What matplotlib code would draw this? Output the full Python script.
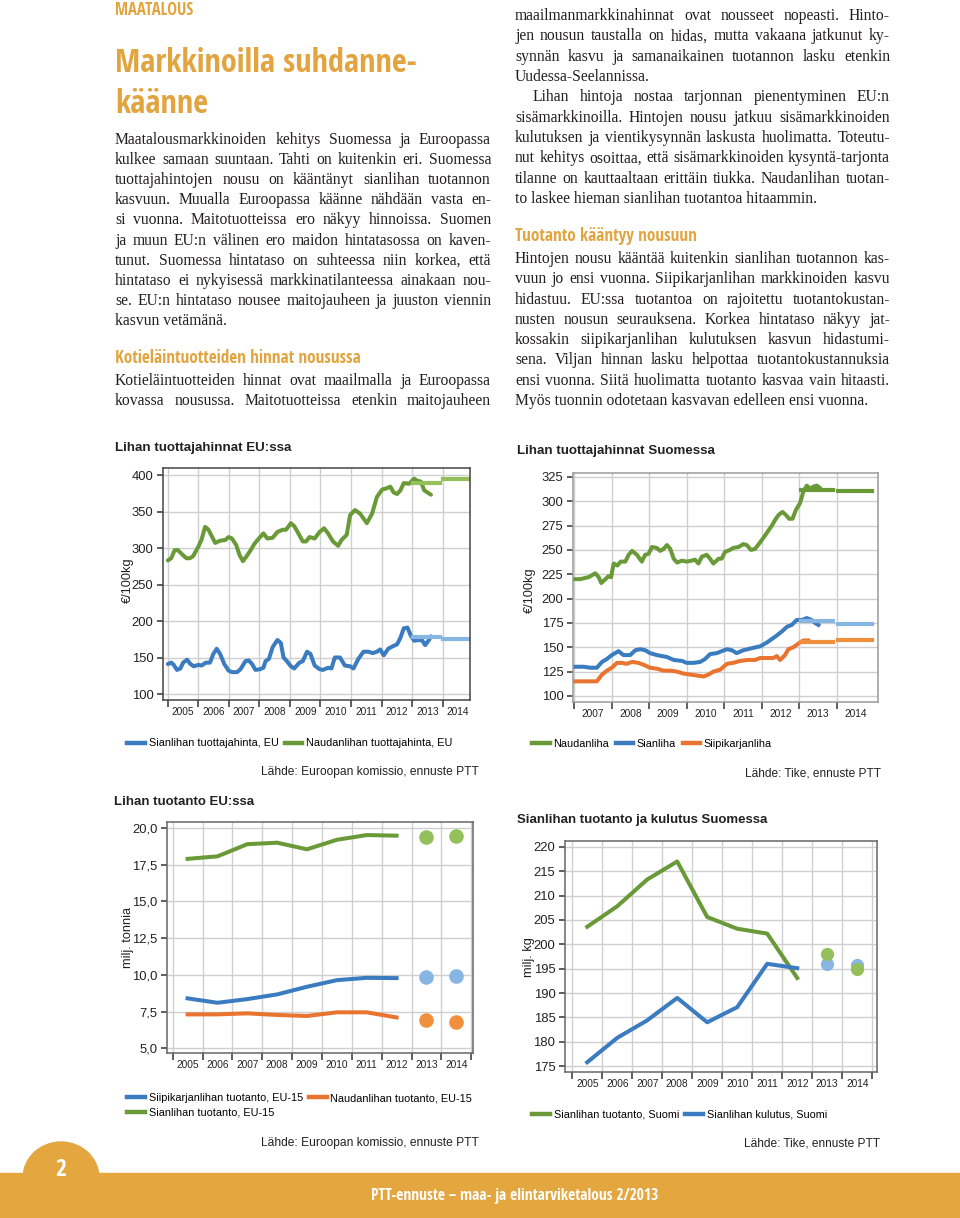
import matplotlib
matplotlib.use("Agg")
import matplotlib.pyplot as plt
from matplotlib import font_manager as fm
from matplotlib.font_manager import FontProperties
from matplotlib.lines import Line2D
from matplotlib.patches import Rectangle, Ellipse
from matplotlib.ticker import FixedLocator, FuncFormatter

# ---------------- DATA ----------------
# Chart 1: Lihan tuottajahinnat EU:ssa (EUR/100kg)
EU_BEEF_T = [2005.0, 2005.11, 2005.22, 2005.33, 2005.5, 2005.61, 2005.72, 2005.83,
             2006.0, 2006.1, 2006.22, 2006.33, 2006.44, 2006.55, 2006.71, 2006.88, 2006.99,
             2007.1, 2007.24, 2007.35, 2007.46, 2007.6, 2007.71, 2007.84, 2007.98,
             2008.13, 2008.26, 2008.43, 2008.59, 2008.76, 2008.87,
             2009.03, 2009.14, 2009.25, 2009.42, 2009.53, 2009.64, 2009.81, 2009.97,
             2010.12, 2010.25, 2010.41, 2010.58, 2010.69, 2010.86, 2010.97,
             2011.13, 2011.3, 2011.52, 2011.69, 2011.85,
             2012.02, 2012.18, 2012.29, 2012.4, 2012.51, 2012.62, 2012.73, 2012.9,
             2013.07, 2013.18, 2013.29, 2013.4, 2013.51, 2013.62]
EU_BEEF_V = [283, 286, 297, 297, 290, 286, 286, 289,
             302, 311, 329, 325, 316, 307, 310, 311, 315,
             313, 304, 290, 282, 290, 297, 306, 313,
             320, 313, 314, 322, 325, 325,
             334, 330, 322, 309, 309, 315, 313, 322,
             327, 320, 309, 303, 311, 318, 345,
             352, 347, 334, 347, 370,
             380, 382, 384, 376, 374, 379, 389, 388,
             395, 392, 391, 379, 376, 373]
EU_PORK_T = [2005.0, 2005.11, 2005.19, 2005.3, 2005.41, 2005.5, 2005.63, 2005.74, 2005.85,
             2006.0, 2006.1, 2006.25, 2006.38, 2006.49, 2006.6, 2006.71, 2006.85, 2006.99,
             2007.1, 2007.27, 2007.38, 2007.54, 2007.65, 2007.76, 2007.87,
             2008.02, 2008.13, 2008.2, 2008.31, 2008.43, 2008.59, 2008.7, 2008.79, 2008.9,
             2009.03, 2009.14, 2009.31, 2009.42, 2009.56, 2009.67, 2009.81, 2009.97,
             2010.08, 2010.25, 2010.36, 2010.47, 2010.64, 2010.8, 2010.97,
             2011.08, 2011.24, 2011.41, 2011.57, 2011.71, 2011.85, 2011.96,
             2012.07, 2012.22, 2012.35, 2012.51, 2012.62, 2012.73, 2012.85, 2012.96,
             2013.07, 2013.23, 2013.34, 2013.43, 2013.54, 2013.62]
EU_PORK_V = [141, 143, 140, 133, 135, 143, 147, 141, 138,
             140, 139, 143, 143, 155, 162, 155, 141, 132,
             130, 130, 134, 145, 146, 141, 133,
             134, 136, 145, 148, 164, 174, 170, 150, 145,
             138, 135, 143, 145, 158, 155, 139, 134,
             133, 136, 135, 150, 150, 139, 138,
             135, 148, 158, 158, 156, 158, 161,
             153, 162, 165, 168, 177, 190, 191, 180,
             173, 174, 173, 167, 173, 179]
EU_FC_YEARS = [2013, 2014]
EU_BEEF_FC = [388.5, 394.5]
EU_PORK_FC = [177.5, 176.0]

# Chart 2: Lihan tuottajahinnat Suomessa (EUR/100kg)
FI_BEEF_T = [2007.0, 2007.16, 2007.38, 2007.56, 2007.65, 2007.72, 2007.83, 2007.91, 2007.98,
             2008.05, 2008.15, 2008.24, 2008.36, 2008.45, 2008.54, 2008.67, 2008.8, 2008.89, 2008.98,
             2009.07, 2009.2, 2009.29, 2009.38, 2009.47, 2009.56, 2009.65, 2009.74, 2009.87,
             2010.0, 2010.13, 2010.22, 2010.31, 2010.4, 2010.53, 2010.62, 2010.71, 2010.85, 2010.93,
             2011.02, 2011.15, 2011.24, 2011.38, 2011.51, 2011.6, 2011.71, 2011.82, 2011.96,
             2012.09, 2012.18, 2012.27, 2012.36, 2012.45, 2012.55, 2012.64, 2012.73, 2012.82, 2012.91,
             2013.02, 2013.11, 2013.2, 2013.29, 2013.38, 2013.47, 2013.54]
FI_BEEF_V = [220, 220, 222, 226, 222, 216, 220, 223, 222,
             236, 234, 238, 238, 245, 249, 245, 238, 245, 246,
             253, 252, 249, 251, 255, 251, 241, 237, 239,
             238, 239, 240, 236, 243, 245, 241, 236, 241, 241,
             248, 250, 252, 253, 256, 255, 250, 251, 258,
             265, 270, 275, 281, 286, 289, 286, 282, 282, 291,
             298, 310, 316, 313, 315, 316, 314]
FI_PORK_T = [2007.0, 2007.25, 2007.43, 2007.6, 2007.74, 2007.87,
             2008.0, 2008.18, 2008.31, 2008.49, 2008.63, 2008.76, 2008.89,
             2009.02, 2009.2, 2009.47, 2009.65, 2009.87,
             2010.0, 2010.18, 2010.36, 2010.49, 2010.62, 2010.8, 2010.93,
             2011.07, 2011.2, 2011.33, 2011.51, 2011.73, 2011.96,
             2012.14, 2012.36, 2012.53, 2012.67, 2012.8, 2012.93,
             2013.07, 2013.2, 2013.33, 2013.42, 2013.51]
FI_PORK_V = [130, 130, 129, 129, 135, 138,
             142, 146, 142, 142, 147, 148, 147,
             144, 142, 140, 137, 136,
             134, 134, 135, 138, 143, 144, 146,
             148, 147, 144, 147, 149, 151,
             155, 161, 166, 171, 173, 178,
             178, 180, 178, 175, 173]
FI_POULTRY_T = [2007.0, 2007.34, 2007.6, 2007.74, 2007.87,
                2008.0, 2008.14, 2008.27, 2008.4, 2008.54, 2008.71, 2008.85,
                2009.02, 2009.2, 2009.38, 2009.56, 2009.74, 2009.91,
                2010.09, 2010.27, 2010.45, 2010.58, 2010.71, 2010.89,
                2011.07, 2011.24, 2011.42, 2011.64, 2011.82, 2011.96,
                2012.14, 2012.31, 2012.4, 2012.49, 2012.62, 2012.71, 2012.84, 2012.98,
                2013.11, 2013.24]
FI_POULTRY_V = [115, 115, 115, 122, 126,
                129, 134, 134, 133, 135, 134, 132,
                129, 128, 126, 126, 125, 123,
                122, 121, 120, 122, 125, 127,
                133, 134, 136, 137, 137, 139,
                139, 139, 141, 137, 142, 148, 150, 154,
                157, 157]
FI_FC_YEARS = [2013, 2014]
FI_BEEF_FC = [312, 311]
FI_PORK_FC = [176.5, 174]
FI_POULTRY_FC = [155, 157]

# Chart 3: Lihan tuotanto EU:ssa (milj. tonnia)
PROD_YEARS = [2005, 2006, 2007, 2008, 2009, 2010, 2011, 2012]
FC_YEARS = [2013, 2014]
EU_POULTRY_PROD = [8.4, 8.1, 8.35, 8.67, 9.19, 9.64, 9.8, 9.78]
EU_BEEF_PROD = [7.31, 7.31, 7.38, 7.27, 7.2, 7.45, 7.45, 7.1]
EU_PORK_PROD = [17.9, 18.07, 18.9, 19.0, 18.55, 19.2, 19.52, 19.48]
EU_POULTRY_PROD_FC = [9.87, 9.92]
EU_BEEF_PROD_FC = [6.93, 6.81]
EU_PORK_PROD_FC = [19.37, 19.46]

# Chart 4: Sianlihan tuotanto ja kulutus Suomessa (milj. kg)
FI_PORK_PROD = [203.6, 207.8, 213.3, 217.0, 205.6, 203.2, 202.2, 193.1]
FI_PORK_CONS = [175.8, 180.8, 184.4, 189.0, 184.0, 187.1, 196.0, 195.1]
FI_PORK_PROD_FC = [198.1, 195.0]
FI_PORK_CONS_FC = [196.0, 195.7]

TICK_YEARS_1 = list(range(2005, 2015))
TICK_YEARS_2 = list(range(2007, 2015))

LEFT_TEXT = [
    "Maatalousmarkkinoiden kehitys Suomessa ja Euroopassa",
    "kulkee samaan suuntaan. Tahti on kuitenkin eri. Suomessa",
    "tuottajahintojen nousu on kääntänyt sianlihan tuotannon",
    "kasvuun. Muualla Euroopassa käänne nähdään vasta en-",
    "si vuonna. Maitotuotteissa ero näkyy hinnoissa. Suomen",
    "ja muun EU:n välinen ero maidon hintatasossa on kaven-",
    "tunut. Suomessa hintataso on suhteessa niin korkea, että",
    "hintataso ei nykyisessä markkinatilanteessa ainakaan nou-",
    "se. EU:n hintataso nousee maitojauheen ja juuston viennin",
    "kasvun vetämänä.",
]
LEFT_TEXT2 = [
    "Kotieläintuotteiden hinnat ovat maailmalla ja Euroopassa",
    "kovassa nousussa. Maitotuotteissa etenkin maitojauheen",
]
RIGHT_TEXT = [
    "maailmanmarkkinahinnat ovat nousseet nopeasti. Hinto-",
    "jen nousun taustalla on hidas, mutta vakaana jatkunut ky-",
    "synnän kasvu ja samanaikainen tuotannon lasku etenkin",
    "Uudessa-Seelannissa.",
    "Lihan hintoja nostaa tarjonnan pienentyminen EU:n",
    "sisämarkkinoilla. Hintojen nousu jatkuu sisämarkkinoiden",
    "kulutuksen ja vientikysynnän laskusta huolimatta. Toteutu-",
    "nut kehitys osoittaa, että sisämarkkinoiden kysyntä-tarjonta",
    "tilanne on kauttaaltaan erittäin tiukka. Naudanlihan tuotan-",
    "to laskee hieman sianlihan tuotantoa hitaammin.",
]
RIGHT_TEXT2 = [
    "Hintojen nousu kääntää kuitenkin sianlihan tuotannon kas-",
    "vuun jo ensi vuonna. Siipikarjanlihan markkinoiden kasvu",
    "hidastuu. EU:ssa tuotantoa on rajoitettu tuotantokustan-",
    "nusten nousun seurauksena. Korkea hintataso näkyy jat-",
    "kossakin siipikarjanlihan kulutuksen kasvun hidastumi-",
    "sena. Viljan hinnan lasku helpottaa tuotantokustannuksia",
    "ensi vuonna. Siitä huolimatta tuotanto kasvaa vain hitaasti.",
    "Myös tuonnin odotetaan kasvavan edelleen ensi vuonna.",
]

# ---------------- SETUP ----------------
W, H = 960, 1218
fig = plt.figure(figsize=(9.6, 12.18), dpi=100)
fig.patch.set_facecolor("white")
R = fig.canvas.get_renderer()

avail = {f.name for f in fm.fontManager.ttflist}
SERIF = "Liberation Serif" if "Liberation Serif" in avail else "DejaVu Serif"
SANS = "Liberation Sans" if "Liberation Sans" in avail else "DejaVu Sans"

WMAP = {"thin": 100, "extralight": 200, "light": 300, "normal": 400, "regular": 400,
        "book": 400, "medium": 500, "semibold": 600, "demibold": 600, "bold": 700,
        "extra bold": 800, "heavy": 800, "black": 900}
SMAP = {"ultra-condensed": 1, "extra-condensed": 2, "condensed": 3, "semi-condensed": 4}


def find_condensed_bold():
    prefs = ["liberation", "noto", "opensans", "open", "roboto", "lato", "inter", "dejavu"]
    best = None
    for f in fm.fontManager.ttflist:
        fname = f.fname.lower()
        nm = f.name
        if "mono" in fname or "serif" in fname.replace("sans", "") and "sans" not in fname:
            continue
        if "italic" in fname or "oblique" in fname or f.style != "normal":
            continue
        st = f.stretch
        cond = ("condensed" in fname or "narrow" in fname or "Condensed" in nm or "Narrow" in nm
                or (isinstance(st, str) and st in SMAP) or (isinstance(st, int) and st < 500))
        if not cond or "sans" not in fname and "roboto" not in fname and "open" not in fname:
            if not cond:
                continue
        w = f.weight if isinstance(f.weight, int) else WMAP.get(str(f.weight).lower(), 400)
        if w < 600:
            continue
        rank = next((i for i, p in enumerate(prefs) if p in fname), len(prefs))
        score = (rank, abs(w - 700))
        if best is None or score < best[0]:
            best = (score, f.fname)
    return best[1] if best else None


_cond = find_condensed_bold()
if _cond:
    HEAD_FP = FontProperties(fname=_cond)
else:
    HEAD_FP = FontProperties(family=SANS, weight="bold")

ORANGE_HEAD = "#E2A43E"
TXT = "#231f20"
GREEN = "#6a9a38"
BLUE = "#3b7cc0"
ORANGE = "#e8742f"
GREEN_L = "#93c05a"
BLUE_L = "#88b6e2"
ORANGE_L = "#f0903e"


def fx(p):
    return p / W


def fy(p):
    return 1 - p / H


def wpx(t):
    return t.get_window_extent(renderer=R).width


def fit_text(x, y, s, target_w, size0=10, ha="left", va="baseline", **kw):
    t = fig.text(fx(x), fy(y), s, ha=ha, va=va, **kw)
    t.set_fontsize(size0)
    w = wpx(t)
    t.set_fontsize(size0 * target_w / w)
    return t


def head(x, y, s, target_w, color=ORANGE_HEAD, **kw):
    return fit_text(x, y, s, target_w, fontproperties=HEAD_FP, color=color, **kw)


# ---------------- HEADINGS ----------------
head(115, 15, "MAATALOUS", 78)
tt = head(115, 72, "Markkinoilla suhdanne-", 302)
t2 = fig.text(fx(115), fy(113), "käänne", fontproperties=HEAD_FP, color=ORANGE_HEAD,
              va="baseline")
t2.set_fontsize(tt.get_fontsize())
head(115, 363, "Kotieläintuotteiden hinnat nousussa", 247)
head(515, 241, "Tuotanto kääntyy nousuun", 181)

# ---------------- BODY TEXT ----------------
all_lines = LEFT_TEXT + LEFT_TEXT2 + RIGHT_TEXT + RIGHT_TEXT2
probe = [fig.text(0, 0, s, fontsize=10, family=SERIF) for s in all_lines]
maxw = max(wpx(p) for p in probe)
for p in probe:
    p.remove()
BODY_SIZE = 10 * 374 / maxw


def draw_line(s, x0, x1, yb, justify=True, indent=0):
    words = s.split(" ")
    if not justify or len(words) == 1:
        fig.text(fx(x0 + indent), fy(yb), s, fontsize=BODY_SIZE, family=SERIF,
                 color=TXT, va="baseline")
        return
    ts = [fig.text(0, fy(yb), w, fontsize=BODY_SIZE, family=SERIF, color=TXT,
                   va="baseline") for w in words]
    ws = [wpx(t) for t in ts]
    gap = (x1 - x0 - indent - sum(ws)) / (len(words) - 1)
    x = x0 + indent
    for t, w in zip(ts, ws):
        t.set_x(fx(x))
        x += w + gap


for i, s in enumerate(LEFT_TEXT):
    draw_line(s, 115, 491, 143.5 + i * 20.2, justify=(i != len(LEFT_TEXT) - 1))
for i, s in enumerate(LEFT_TEXT2):
    draw_line(s, 115, 491, 385 + i * 20.4)
for i, s in enumerate(RIGHT_TEXT):
    last = i in (3, 9)
    draw_line(s, 515, 890, 20 + i * 20.33, justify=not last, indent=18 if i == 4 else 0)
for i, s in enumerate(RIGHT_TEXT2):
    draw_line(s, 515, 890, 263 + i * 20.3, justify=(i != len(RIGHT_TEXT2) - 1))


# ---------------- CHARTS ----------------
def make_ax(l, r, t, b):
    return fig.add_axes([fx(l), fy(b), (r - l) / W, (b - t) / H])


def style_ax(ax, major_x, label_x, labels_x, yticks, ylim, xlim, fmt=None, frame="#555555"):
    ax.set_xlim(*xlim)
    ax.set_ylim(*ylim)
    ax.xaxis.set_major_locator(FixedLocator(major_x))
    ax.xaxis.set_minor_locator(FixedLocator(label_x))
    ax.set_xticklabels([])
    ax.set_xticklabels(labels_x, minor=True)
    ax.set_yticks(yticks)
    if fmt:
        ax.yaxis.set_major_formatter(FuncFormatter(fmt))
    ax.tick_params(axis="x", which="major", length=5, width=1.1, color="#333333",
                   direction="out")
    ax.tick_params(axis="x", which="minor", length=0, pad=5, labelsize=7.3,
                   labelcolor="#222222")
    ax.tick_params(axis="y", length=4, width=1.1, color="#333333", pad=3,
                   labelsize=9.4, labelcolor="#222222")
    for lab in ax.get_xticklabels(minor=True) + ax.get_yticklabels():
        lab.set_family(SANS)
    ax.grid(True, which="major", color="#cfcfcf", lw=1.0)
    ax.set_axisbelow(True)
    for sp in ax.spines.values():
        sp.set_color(frame)
        sp.set_linewidth(1.1)


def chart_title(x, y, s, w):
    fit_text(x, y, s, w, family=SANS, weight="bold", color="#222222", va="center")


def source(xr, y, s, w):
    fit_text(xr, y, s, w, family=SANS, color="#222222", ha="right", va="center")


def ylab(x, y, s):
    fig.text(fx(x), fy(y), s, rotation=90, ha="center", va="center", fontsize=9.2,
             family=SANS, color="#222222")


def legend(x, y, items, ncol):
    handles = [Line2D([], [], color=c, lw=3.2) for c, _ in items]
    labels = [lbl for _, lbl in items]
    fig.legend(handles, labels, loc="center left", bbox_to_anchor=(fx(x), fy(y)),
               ncol=ncol, frameon=False, borderpad=0, handlelength=1.6,
               handletextpad=0.35, columnspacing=0.6, labelspacing=0.45,
               prop={"family": SANS, "size": 7.8})


# Chart 1
ax1 = make_ax(163, 470, 468, 700)
style_ax(ax1, TICK_YEARS_1, [y + 0.5 for y in TICK_YEARS_1], [str(y) for y in TICK_YEARS_1],
         list(range(100, 401, 50)), (91.8, 409.6), (2004.84, 2014.9), frame="#444444")
ax1.plot(EU_BEEF_T, EU_BEEF_V, color=GREEN, lw=2.9, solid_capstyle="round")
ax1.plot(EU_PORK_T, EU_PORK_V, color=BLUE, lw=2.9, solid_capstyle="round")
for yr, vb, vp in zip(EU_FC_YEARS, EU_BEEF_FC, EU_PORK_FC):
    ax1.plot([yr + 0.02, yr + 0.93], [vb, vb], color=GREEN_L, lw=3)
    ax1.plot([yr + 0.02, yr + 0.93], [vp, vp], color=BLUE_L, lw=3)
chart_title(115, 448, "Lihan tuottajahinnat EU:ssa", 176)
ylab(128, 580, "€/100kg")
legend(122, 743.5, [(BLUE, "Sianlihan tuottajahinta, EU"),
                    (GREEN, "Naudanlihan tuottajahinta, EU")], 2)
source(479, 772, "Lähde: Euroopan komissio, ennuste PTT", 218)

# Chart 2
ax2 = make_ax(573, 878, 473, 702)
style_ax(ax2, TICK_YEARS_2, [y + 0.5 for y in TICK_YEARS_2], [str(y) for y in TICK_YEARS_2],
         list(range(100, 326, 25)), (93.8, 329), (2006.965, 2015.1), frame="#9a9a9a")
ax2.plot(FI_BEEF_T, FI_BEEF_V, color=GREEN, lw=2.9)
ax2.plot(FI_PORK_T, FI_PORK_V, color=BLUE, lw=2.9)
ax2.plot(FI_POULTRY_T, FI_POULTRY_V, color=ORANGE, lw=2.9)
for yr, vb, vp, vq in zip(FI_FC_YEARS, FI_BEEF_FC, FI_PORK_FC, FI_POULTRY_FC):
    x0, x1 = (yr + 0.05, yr + 0.9) if yr == 2013 else (yr + 0.04, yr + 0.93)
    ax2.plot([x0, x1], [vb, vb], color=GREEN, lw=3)
    ax2.plot([x0, x1], [vp, vp], color=BLUE_L, lw=3)
    ax2.plot([x0, x1], [vq, vq], color=ORANGE_L, lw=3)
chart_title(517, 451, "Lihan tuottajahinnat Suomessa", 198)
ylab(530, 590, "€/100kg")
legend(527, 744, [(GREEN, "Naudanliha"), (BLUE, "Sianliha"), (ORANGE, "Siipikarjanliha")], 3)
source(881, 773, "Lähde: Tike, ennuste PTT", 137)

# Chart 3
comma = lambda v, p: f"{v:.1f}".replace(".", ",")
ax3 = make_ax(167, 473, 822, 1053)
bounds = [y - 0.5 for y in range(2005, 2016)]
yrs = list(range(2005, 2015))
style_ax(ax3, bounds, yrs, [str(y) for y in yrs], [5, 7.5, 10, 12.5, 15, 17.5, 20],
         (4.68, 20.41), (2004.31, 2014.56), fmt=comma, frame="#666666")
ax3.plot(PROD_YEARS, EU_PORK_PROD, color=GREEN, lw=2.9)
ax3.plot(PROD_YEARS, EU_POULTRY_PROD, color=BLUE, lw=2.9)
ax3.plot(PROD_YEARS, EU_BEEF_PROD, color=ORANGE, lw=2.9)
ax3.plot(FC_YEARS, EU_PORK_PROD_FC, "o", color=GREEN_L, ms=10.5, mec="none")
ax3.plot(FC_YEARS, EU_POULTRY_PROD_FC, "o", color=BLUE_L, ms=10.5, mec="none")
ax3.plot(FC_YEARS, EU_BEEF_PROD_FC, "o", color=ORANGE_L, ms=10.5, mec="none")
chart_title(114, 802, "Lihan tuotanto EU:ssa", 141)
ylab(128, 937, "milj. tonnia")
legend(122, 1105.5, [(BLUE, "Siipikarjanlihan tuotanto, EU-15"),
                     (GREEN, "Sianlihan tuotanto, EU-15"),
                     (ORANGE, "Naudanlihan tuotanto, EU-15")], 2)
source(479, 1143, "Lähde: Euroopan komissio, ennuste PTT", 218)

# Chart 4
ax4 = make_ax(565, 877, 841, 1072)
style_ax(ax4, bounds, yrs, [str(y) for y in yrs], list(range(175, 221, 5)),
         (173.8, 221.2), (2004.26, 2014.66), frame="#666666")
ax4.plot(PROD_YEARS, FI_PORK_PROD, color=GREEN, lw=2.9)
ax4.plot(PROD_YEARS, FI_PORK_CONS, color=BLUE, lw=2.9)
ax4.plot(FC_YEARS, FI_PORK_CONS_FC, "o", color=BLUE_L, ms=9.5, mec="none")
ax4.plot(FC_YEARS, FI_PORK_PROD_FC, "o", color=GREEN_L, ms=9.5, mec="none")
chart_title(517, 820, "Sianlihan tuotanto ja kulutus Suomessa", 251)
ylab(529, 957, "milj. kg")
legend(527, 1114.5, [(GREEN, "Sianlihan tuotanto, Suomi"),
                     (BLUE, "Sianlihan kulutus, Suomi")], 2)
source(880, 1143, "Lähde: Tike, ennuste PTT", 137)

# ---------------- FOOTER ----------------
FOOT = "#E4A63F"
fig.patches.append(Rectangle((0, 0), 1, fy(1173), transform=fig.transFigure,
                             color=FOOT, zorder=0))
fig.patches.append(Ellipse((fx(61), fy(1178)), 76 / W, 72 / H, transform=fig.transFigure,
                           color=FOOT, zorder=0))
n2 = fig.text(fx(61), fy(1170), "2", ha="center", va="center", fontproperties=HEAD_FP,
              color="white")
n2.set_fontsize(17)
fit_text(515, 1196, "PTT-ennuste – maa- ja elintarviketalous 2/2013", 287, ha="center",
         va="center", fontproperties=HEAD_FP, color="white")

fig.savefig("out.png", dpi=100)
